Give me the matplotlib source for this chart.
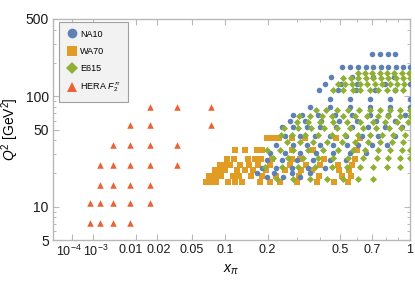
import numpy as np
import matplotlib
matplotlib.use("Agg")
import matplotlib.pyplot as plt
from matplotlib.ticker import FixedLocator, NullFormatter, FixedFormatter
from matplotlib.lines import Line2D
from matplotlib.transforms import ScaledTranslation

plt.rcParams['font.family'] = ['Liberation Sans', 'DejaVu Sans']
plt.rcParams['mathtext.fontset'] = 'custom'
plt.rcParams['mathtext.rm'] = 'Liberation Sans'
plt.rcParams['mathtext.it'] = 'Liberation Sans:italic'

# ---------------- data ----------------
# HERA F2^pi (x_pi, Q^2)
hera_x = [7.8e-4, 7.8e-4,
          1.65e-3, 1.65e-3, 1.65e-3, 1.65e-3,
          3.56e-3, 3.56e-3, 3.56e-3, 3.56e-3, 3.56e-3,
          7.7e-3, 7.7e-3, 7.7e-3, 7.7e-3, 7.7e-3, 7.7e-3,
          0.0162, 0.0162, 0.0162, 0.0162, 0.0162, 0.0162,
          0.0349, 0.0349, 0.0349,
          0.0751, 0.0751]
hera_q2 = [7.2, 10.8,
           7.2, 10.8, 15.6, 23.7,
           7.2, 10.8, 15.6, 23.7, 36.4,
           7.2, 10.8, 15.6, 23.7, 36.4, 54.4,
           10.8, 15.6, 23.7, 36.4, 54.4, 80.5,
           23.7, 36.4, 80.5,
           54.4, 80.5]

# WA70 rows: Q^2 value and x_pi values in each row
wa70_rows_q2 = [41.7, 32.8, 27.2, 23.7, 21.4, 18.9, 16.7]
wa70_rows_x = [
    [0.199, 0.217, 0.236, 0.282, 0.333, 0.48, 0.621],
    [0.118, 0.140, 0.169, 0.185, 0.282, 0.368, 0.602],
    [0.102, 0.1157, 0.1466, 0.164, 0.182, 0.214, 0.282, 0.313, 0.419, 0.59],
    [0.0895, 0.100, 0.1095, 0.1302, 0.149, 0.174, 0.208, 0.275, 0.338, 0.40, 0.492, 0.572],
    [0.0815, 0.0912, 0.100, 0.1237, 0.140, 0.161, 0.196, 0.257, 0.317, 0.363, 0.497, 0.554],
    [0.0723, 0.0815, 0.0912, 0.1136, 0.128, 0.156, 0.185, 0.224, 0.309, 0.395, 0.514, 0.566],
    [0.068, 0.0751, 0.083, 0.105, 0.119, 0.1337, 0.178, 0.2065, 0.238, 0.301, 0.386, 0.47, 0.548],
]

# NA10 rows
na10_rows_q2 = [240, 182, 148, 130, 114, 95, 80, 68, 60, 52.7, 44, 36, 30.5, 26.7, 22.5, 20.2, 18.5]
na10_rows_x = [
    [0.701, 0.758, 0.818, 0.873],
    [0.514, 0.56, 0.609, 0.66, 0.708, 0.765, 0.818, 0.88, 0.94, 1.0],
    [0.454, 0.572, 0.708, 0.866],
    [0.424, 0.508, 0.60, 0.795, 1.0],
    [0.395, 0.491, 0.597, 0.722, 0.873],
    [0.449, 0.56, 0.687, 0.8335, 1.0],
    [0.3546, 0.449, 0.56, 0.687, 0.8335, 1.0],
    [0.286, 0.321, 0.391, 0.475, 0.572, 0.687, 0.818, 0.957],
    [0.275, 0.333, 0.404, 0.497, 0.603, 0.729, 0.873],
    [0.246, 0.286, 0.342, 0.40, 0.48, 0.572, 0.674, 0.795, 0.93],
    [0.257, 0.313, 0.377, 0.449, 0.537, 0.634, 0.744, 0.873],
    [0.2264, 0.286, 0.342, 0.40, 0.465, 0.542, 0.609, 0.701, 0.81],
    [0.208, 0.257, 0.313, 0.382, 0.465, 0.56, 0.66],
    [0.199, 0.246, 0.301, 0.368, 0.449, 0.537],
    [0.185, 0.2264, 0.282, 0.346, 0.424],
    [0.171, 0.22, 0.282, 0.3546],
    [0.199, 0.249, 0.313],
]

# E615 rows
e615_rows_q2 = [163, 146, 130, 114, 75.5, 66.5, 59, 52, 45, 38.4, 32.8, 27.6, 22.9, 18.0]
e615_rows_x = [
    [0.609, 0.654, 0.70, 0.758, 0.81, 0.866, 0.93, 0.99],
    [0.519, 0.566, 0.609, 0.66, 0.708, 0.765, 0.818, 0.88, 0.94, 1.0],
    [0.491, 0.531, 0.572, 0.621, 0.667, 0.722, 0.773, 0.8335, 0.889, 0.95],
    [0.465, 0.519, 0.578, 0.621, 0.687, 0.744, 0.81, 0.873, 0.94],
    [0.382, 0.429, 0.486, 0.548, 0.615, 0.687, 0.758, 0.8335, 0.914, 1.0],
    [0.309, 0.3546, 0.409, 0.459, 0.519, 0.59, 0.667, 0.744, 0.818, 0.914, 1.0],
    [0.301, 0.346, 0.40, 0.465, 0.542, 0.621, 0.708, 0.795, 0.889, 0.98],
    [0.253, 0.305, 0.359, 0.419, 0.486, 0.56, 0.641, 0.729, 0.826, 0.922],
    [0.243, 0.282, 0.333, 0.391, 0.459, 0.531, 0.609, 0.687, 0.773, 0.858, 0.957],
    [0.264, 0.313, 0.368, 0.434, 0.514, 0.59, 0.674, 0.758, 0.85, 0.94],
    [0.199, 0.2398, 0.286, 0.346, 0.414, 0.491, 0.578, 0.654, 0.744, 0.8335, 0.93, 1.0],
    [0.217, 0.2676, 0.325, 0.391, 0.465, 0.548, 0.641, 0.737, 0.818, 0.914, 1.0],
    [0.193, 0.246, 0.305, 0.377, 0.459, 0.542, 0.621, 0.708, 0.81, 0.914],
    [0.2298, 0.2862, 0.3546, 0.434, 0.519, 0.609, 0.708],
]

legend_labels = ["NA10", "WA70", "E615", r"HERA $F_2^{\,\pi}$"]
x_ticks = [1e-4, 1e-3, 0.01, 0.02, 0.05, 0.1, 0.2, 0.5, 0.7, 1.0]
x_tick_labels = [r"$10^{-4}$", r"$10^{-3}$", "0.01", "0.02", "0.05", "0.1", "0.2", "0.5", "0.7", "1"]
y_ticks = [5, 10, 50, 100, 500]
y_tick_labels = ["5", "10", "50", "100", "500"]

colors = {"NA10": "#5E81B5", "WA70": "#E19C24", "E615": "#8FB032", "HERA": "#EB6235"}

# ---------------- scale ----------------
P = 0.316

def fwd(x):
    x = np.asarray(x, dtype=float)
    return np.power(np.clip(x, 0, None), P)

def inv(t):
    t = np.asarray(t, dtype=float)
    return np.power(np.clip(t, 0, None), 1.0 / P)


def flatten(rows_q2, rows_x):
    xs, qs = [], []
    for q, row in zip(rows_q2, rows_x):
        for xv in row:
            xs.append(xv)
            qs.append(q)
    return xs, qs


fig = plt.figure(figsize=(4.15, 2.86), dpi=100)
ax = fig.add_axes([53 / 415, 46 / 286, 357 / 415, 221 / 286])
ax.set_xscale('function', functions=(fwd, inv))
ax.set_yscale('log')
ax.set_xlim(0, 1)
ax.set_ylim(5, 500)

wx, wq = flatten(wa70_rows_q2, wa70_rows_x)
nx, nq = flatten(na10_rows_q2, na10_rows_x)
ex, eq = flatten(e615_rows_q2, e615_rows_x)

ax.scatter(wx, wq, marker='s', s=20, color=colors["WA70"], linewidths=0, zorder=3)
ax.scatter(nx, nq, marker='o', s=16, color=colors["NA10"], linewidths=0, zorder=4)
ax.scatter(ex, eq, marker='D', s=13, color=colors["E615"], linewidths=0, zorder=5)
ax.scatter(hera_x, hera_q2, marker='^', s=22, color=colors["HERA"], linewidths=0, zorder=3)

handles = [
    Line2D([], [], marker='o', ls='', color=colors["NA10"], markersize=7, markeredgewidth=0),
    Line2D([], [], marker='s', ls='', color=colors["WA70"], markersize=7, markeredgewidth=0),
    Line2D([], [], marker='D', ls='', color=colors["E615"], markersize=6, markeredgewidth=0),
    Line2D([], [], marker='^', ls='', color=colors["HERA"], markersize=7, markeredgewidth=0),
]
leg = ax.legend(handles, legend_labels, loc='upper left', bbox_to_anchor=(0.018, 0.985),
                fontsize=6.5, frameon=True, fancybox=False, handletextpad=0.3,
                labelspacing=0.9, borderpad=0.8, handlelength=1.2, borderaxespad=0)
leg.get_frame().set_facecolor('#f2f2f2')
leg.get_frame().set_edgecolor('#a0a0a0')
leg.get_frame().set_linewidth(0.8)
leg.get_frame().set_alpha(1)
leg.set_zorder(10)

ax.xaxis.set_major_locator(FixedLocator(x_ticks))
ax.xaxis.set_major_formatter(FixedFormatter(x_tick_labels))
minor_x = [0.3, 0.4, 0.6, 0.8, 0.9]
ax.xaxis.set_minor_locator(FixedLocator(minor_x))
ax.xaxis.set_minor_formatter(NullFormatter())
ax.yaxis.set_major_locator(FixedLocator(y_ticks))
ax.yaxis.set_major_formatter(FixedFormatter(y_tick_labels))
minor_y = [6, 7, 8, 9, 20, 30, 40, 60, 70, 80, 90, 200, 300, 400]
ax.yaxis.set_minor_locator(FixedLocator(minor_y))
ax.yaxis.set_minor_formatter(NullFormatter())

frame_c = '#b8b8b8'
for sp in ax.spines.values():
    sp.set_color(frame_c)
    sp.set_linewidth(1.0)
ax.tick_params(which='both', direction='in', top=True, right=True, color=frame_c,
               labelcolor='#1a1a1a', pad=3)
ax.tick_params(axis='y', labelsize=10)
ax.tick_params(axis='x', labelsize=9)
ax.tick_params(which='major', length=4, width=0.8)
ax.tick_params(which='minor', length=2.5, width=0.7)

# crowded small-x labels: shift slightly apart (points offsets)
shifts_pt = [-2.5, 2.0, -4.0, 1.5, 0, 0, 0, 0, 0, 0]
for lbl, dx in zip(ax.get_xticklabels(), shifts_pt):
    if dx:
        lbl.set_transform(lbl.get_transform() + ScaledTranslation(dx / 72, 0, fig.dpi_scale_trans))

ax.set_xlabel(r"$x_{\pi}$", fontsize=10, labelpad=2)
ax.set_ylabel(r"$Q^2$ [GeV$^2$]", fontsize=10, labelpad=3)

fig.savefig("out.png", dpi=100)
